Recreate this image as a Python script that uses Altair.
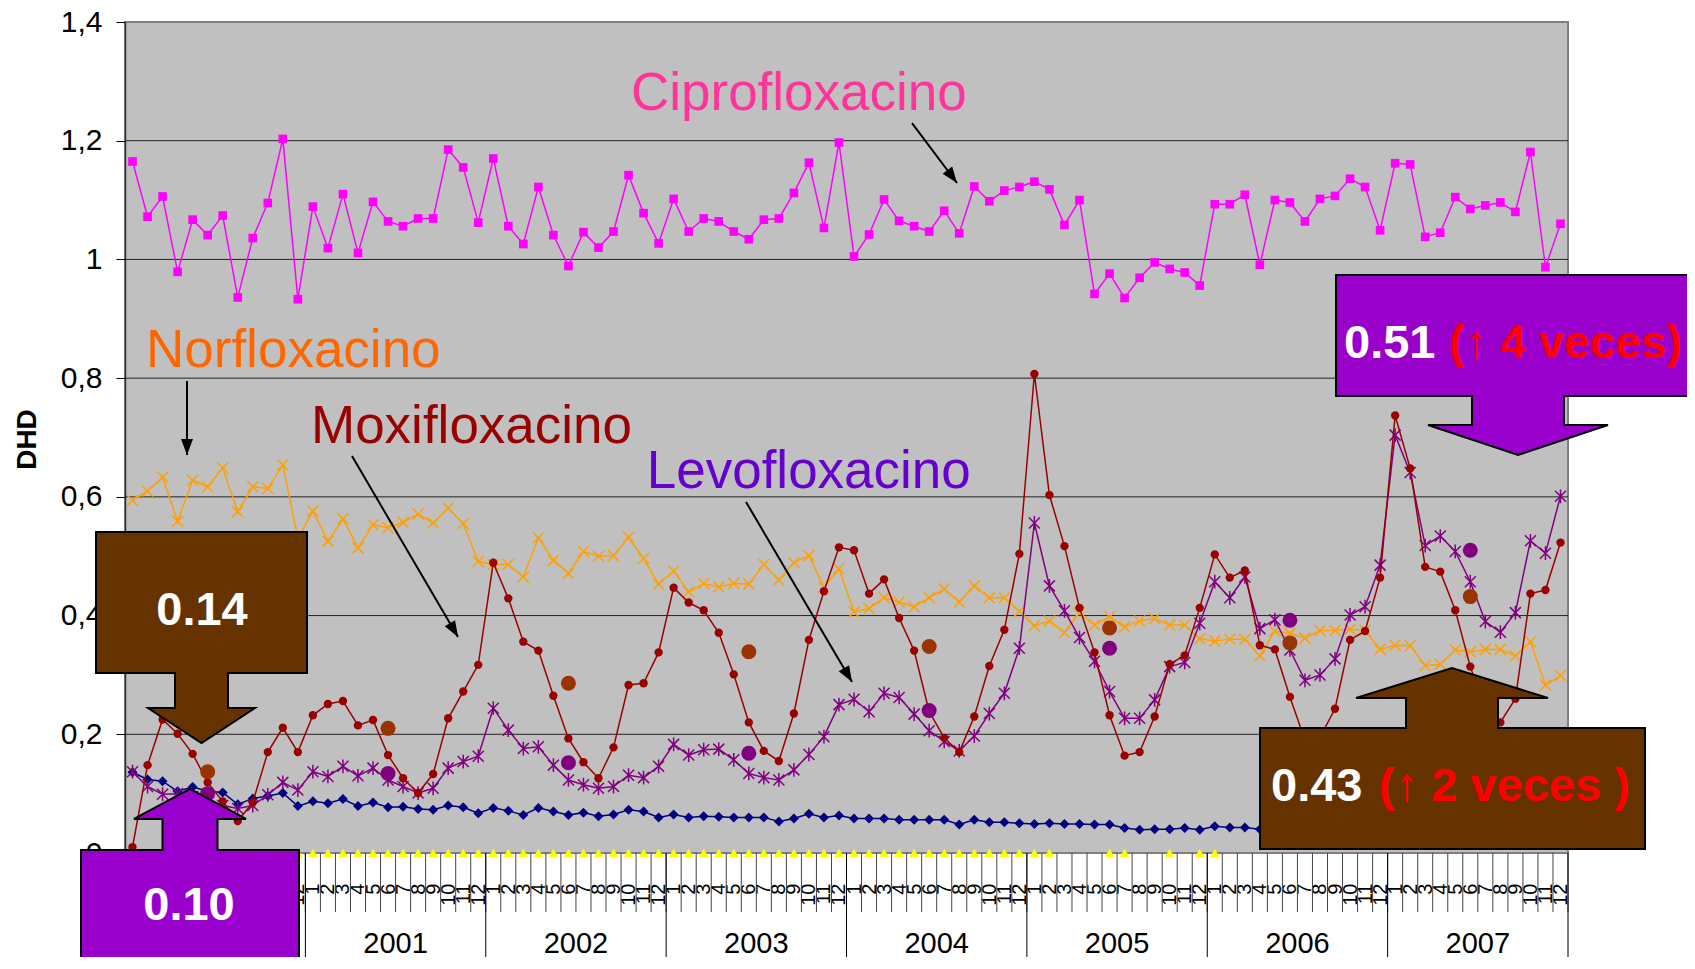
import math
import altair as alt
import pandas as pd

# ---------------- data ----------------
years = [2000, 2001, 2002, 2003, 2004, 2005, 2006, 2007]

ciprofloxacino = [
    1.165, 1.072, 1.106, 0.979, 1.067, 1.041, 1.074, 0.936, 1.036, 1.095, 1.203, 0.933,
    1.089, 1.019, 1.110, 1.011, 1.097, 1.064, 1.056, 1.069, 1.069, 1.185, 1.155, 1.062,
    1.170, 1.056, 1.026, 1.122, 1.041, 0.989, 1.046, 1.020, 1.047, 1.142, 1.078, 1.027,
    1.102, 1.047, 1.069, 1.064, 1.047, 1.034, 1.067, 1.069, 1.112, 1.163, 1.053, 1.197,
    1.005, 1.042, 1.101, 1.065, 1.056, 1.047, 1.082, 1.044, 1.123, 1.098, 1.116, 1.122,
    1.131, 1.118, 1.058, 1.100, 0.942, 0.976, 0.935, 0.969, 0.995, 0.984, 0.978, 0.956,
    1.093, 1.093, 1.109, 0.991, 1.100, 1.096, 1.064, 1.102, 1.107, 1.136, 1.122, 1.049,
    1.162, 1.160, 1.038, 1.045, 1.105, 1.085, 1.091, 1.096, 1.080, 1.181, 0.987, 1.060,
]
norfloxacino = [
    0.594, 0.610, 0.633, 0.559, 0.628, 0.617, 0.649, 0.575, 0.617, 0.614, 0.654, 0.530,
    0.576, 0.525, 0.563, 0.514, 0.553, 0.548, 0.557, 0.571, 0.556, 0.581, 0.555, 0.491,
    0.486, 0.486, 0.465, 0.531, 0.493, 0.471, 0.508, 0.500, 0.501, 0.532, 0.496, 0.453,
    0.475, 0.440, 0.454, 0.448, 0.454, 0.453, 0.486, 0.460, 0.489, 0.501, 0.448, 0.479,
    0.406, 0.412, 0.430, 0.423, 0.415, 0.430, 0.445, 0.423, 0.450, 0.430, 0.430, 0.407,
    0.383, 0.391, 0.371, 0.405, 0.384, 0.398, 0.381, 0.391, 0.395, 0.384, 0.384, 0.361,
    0.357, 0.360, 0.360, 0.332, 0.374, 0.370, 0.362, 0.375, 0.375, 0.377, 0.375, 0.343,
    0.350, 0.349, 0.316, 0.318, 0.342, 0.339, 0.343, 0.343, 0.332, 0.356, 0.283, 0.299,
]
moxifloxacino = [
    0.010, 0.148, 0.225, 0.201, 0.167, 0.119, 0.087, 0.054, 0.085, 0.170, 0.211, 0.170,
    0.232, 0.251, 0.256, 0.215, 0.224, 0.165, 0.126, 0.101, 0.133, 0.227, 0.272, 0.317,
    0.489, 0.429, 0.356, 0.341, 0.265, 0.193, 0.153, 0.126, 0.178, 0.283, 0.286, 0.338,
    0.447, 0.422, 0.409, 0.371, 0.301, 0.220, 0.172, 0.155, 0.235, 0.359, 0.441, 0.515,
    0.510, 0.437, 0.461, 0.396, 0.341, 0.238, 0.194, 0.170, 0.230, 0.315, 0.376, 0.504,
    0.807, 0.603, 0.517, 0.413, 0.338, 0.232, 0.164, 0.170, 0.230, 0.318, 0.333, 0.413,
    0.503, 0.464, 0.476, 0.350, 0.343, 0.263, 0.190, 0.195, 0.243, 0.359, 0.374, 0.464,
    0.737, 0.648, 0.482, 0.474, 0.409, 0.314, 0.240, 0.220, 0.260, 0.437, 0.443, 0.523,
]
levofloxacino = [
    0.137, 0.112, 0.099, 0.100, 0.095, 0.085, 0.080, 0.075, 0.080, 0.098, 0.119, 0.106,
    0.137, 0.129, 0.146, 0.130, 0.143, 0.123, 0.112, 0.101, 0.109, 0.143, 0.154, 0.163,
    0.244, 0.207, 0.176, 0.179, 0.148, 0.123, 0.115, 0.109, 0.112, 0.131, 0.127, 0.146,
    0.183, 0.165, 0.174, 0.175, 0.157, 0.134, 0.127, 0.123, 0.140, 0.166, 0.196, 0.250,
    0.259, 0.238, 0.269, 0.262, 0.234, 0.206, 0.188, 0.172, 0.197, 0.235, 0.269, 0.345,
    0.556, 0.450, 0.408, 0.363, 0.323, 0.272, 0.227, 0.227, 0.258, 0.314, 0.321, 0.387,
    0.457, 0.430, 0.465, 0.378, 0.393, 0.342, 0.291, 0.300, 0.327, 0.401, 0.415, 0.485,
    0.704, 0.641, 0.518, 0.534, 0.508, 0.457, 0.390, 0.372, 0.405, 0.526, 0.505, 0.601,
]
otra_quinolona = [
    0.136, 0.124, 0.121, 0.104, 0.111, 0.104, 0.102, 0.082, 0.092, 0.096, 0.101, 0.079,
    0.087, 0.084, 0.091, 0.079, 0.085, 0.077, 0.078, 0.074, 0.073, 0.080, 0.077, 0.067,
    0.076, 0.071, 0.064, 0.076, 0.070, 0.064, 0.068, 0.062, 0.065, 0.073, 0.070, 0.060,
    0.065, 0.060, 0.062, 0.061, 0.060, 0.060, 0.060, 0.053, 0.058, 0.066, 0.060, 0.063,
    0.058, 0.058, 0.058, 0.056, 0.056, 0.056, 0.056, 0.048, 0.056, 0.052, 0.052, 0.050,
    0.049, 0.050, 0.049, 0.049, 0.048, 0.048, 0.042, 0.039, 0.040, 0.040, 0.042, 0.039,
    0.045, 0.043, 0.043, 0.040, 0.041, 0.040, 0.039, 0.038, 0.040, 0.041, 0.040, 0.039,
    0.042, 0.041, 0.040, 0.039, 0.038, 0.040, 0.039, 0.038, 0.040, 0.039, 0.038, 0.039,
]
# months (0-based index from Jan 2000) where the yellow series (value 0) has a marker
amarillo_meses = list(range(0, 62)) + [65, 66, 69, 71, 72]
amarillo_valor = 0.0

moxi_media_anual = [0.137, 0.210, 0.286, 0.339, 0.348, 0.379, 0.354, 0.432]
levo_media_anual = [0.100, 0.134, 0.152, 0.168, 0.240, 0.345, 0.392, 0.510]

y_ticks = [0, 0.2, 0.4, 0.6, 0.8, 1.0, 1.2, 1.4]
gridlines = [0.2, 0.4, 0.6, 0.8, 1.0, 1.2]

# ---------------- layout ----------------
W, H = 1443, 831
N = len(years) * 12
t = [i + 0.5 for i in range(N)]
FONT = "Liberation Sans"

xs = alt.Scale(domain=[0, N], nice=False, zero=False)
ys = alt.Scale(domain=[0, 1.4], nice=False, zero=True)

xa = alt.Axis(values=t, labelExpr="toString(round(datum.value - 0.5) % 12 + 1)",
              labelAngle=270, labelAlign="right", labelBaseline="middle",
              labelFontSize=20, labelColor="#000000", labelPadding=30,
              labelOverlap=False, labelBound=False, labelFlush=False,
              ticks=False, tickSize=0, domain=False, grid=False, title=None)
ya = alt.Axis(values=y_ticks,
              labelExpr="datum.value == 0 ? '0' : (datum.value == 1 ? '1' : replace(format(datum.value, '.1f'), '.', ','))",
              labelFontSize=30, labelColor="#000000", labelPadding=14,
              tickSize=9, tickColor="#000000", tickWidth=1,
              domainColor="#333333", domainWidth=1.5, grid=False,
              title="DHD", titleFontSize=28, titleFontWeight="bold", titleColor="#000000",
              titleAngle=270, titleX=-98, titleY=417, titleAlign="center", titleBaseline="middle")


def X(f="x"):
    return alt.X(f"{f}:Q", scale=xs, axis=xa)


def Y(f="y"):
    return alt.Y(f"{f}:Q", scale=ys, axis=ya)


layers = []

# gridlines
layers.append(alt.Chart(pd.DataFrame({"y": gridlines})).mark_rule(color="#222222", strokeWidth=1).encode(y=Y()))

# yellow zero series
df_am = pd.DataFrame({"x": [t[i] for i in amarillo_meses], "y": [amarillo_valor] * len(amarillo_meses)})
layers.append(alt.Chart(df_am).mark_point(shape="triangle-up", filled=True, color="#FFFF00", size=100, opacity=1).encode(x=X(), y=Y()))

XSHAPE = "M-1,-1L1,1M-1,1L1,-1"
ASTER = "M-1,-1L1,1M-1,1L1,-1M0,-1.25L0,1.25"


def series(vals, color, shape, size, filled):
    assert len(vals) == N
    df = pd.DataFrame({"x": t, "y": vals})
    ln = alt.Chart(df).mark_line(color=color, strokeWidth=1.5).encode(x=X(), y=Y())
    pt = alt.Chart(df).mark_point(shape=shape, size=size, filled=filled, color=color, opacity=1,
                                  strokeWidth=1.5).encode(x=X(), y=Y())
    return [ln, pt]


layers += series(otra_quinolona, "#000080", "diamond", 100, True)
layers += series(norfloxacino, "#FFA000", XSHAPE, 121, False)
layers += series(levofloxacino, "#800080", ASTER, 121, False)
layers += series(moxifloxacino, "#990000", "circle", 70, True)
layers += series(ciprofloxacino, "#FF00FF", "square", 75, True)

# annual means (big dots) at June of each year
mid = [12 * k + 5.5 for k in range(len(years))]
layers.append(alt.Chart(pd.DataFrame({"x": mid, "y": moxi_media_anual})).mark_point(
    shape="circle", filled=True, color="#993300", size=225, opacity=1).encode(x=X(), y=Y()))
layers.append(alt.Chart(pd.DataFrame({"x": mid, "y": levo_media_anual})).mark_point(
    shape="circle", filled=True, color="#800080", size=225, opacity=1).encode(x=X(), y=Y()))

# category axis decorations: month boundary ticks and year separators
layers.append(alt.Chart(pd.DataFrame({"x": list(range(N + 1)), "y": [0.0] * (N + 1), "y2": [-0.0994] * (N + 1)}))
              .mark_rule(color="#444444", strokeWidth=1).encode(x=X(), y=Y(), y2="y2:Q"))
yb = list(range(0, N + 1, 12))
layers.append(alt.Chart(pd.DataFrame({"x": yb, "y": [0.0] * len(yb), "y2": [-0.25] * len(yb)}))
              .mark_rule(color="#000000", strokeWidth=1).encode(x=X(), y=Y(), y2="y2:Q"))
layers.append(alt.Chart(pd.DataFrame({"x": [12 * k + 6 for k in range(len(years))], "y": [-0.153] * len(years),
                                      "txt": [str(y) for y in years]}))
              .mark_text(fontSize=29, color="#000000", align="center", baseline="middle", font=FONT)
              .encode(x=X(), y=Y(), text="txt:N"))

# drug-name labels with arrows
labels = [
    ("Ciprofloxacino", "#FF3399", 33.66, 1.2518, (52.358, 1.2298, 55.352, 1.1288)),
    ("Norfloxacino", "#FF6600", 1.397, 0.8188, (4.125, 0.7952, 4.125, 0.6705)),
    ("Moxifloxacino", "#990000", 12.374, 0.6907, (15.102, 0.6688, 22.154, 0.3639)),
    ("Levofloxacino", "#6600CC", 34.708, 0.6144, (41.315, 0.5913, 48.367, 0.2881)),
]
arr = pd.DataFrame([a[4] for a in labels], columns=["x", "y", "x2", "y2"])
arr["ang"] = [math.degrees(math.atan2((r.x2 - r.x) * W / N, (r.y2 - r.y) * H / 1.4)) % 360 for r in arr.itertuples()]
layers.append(alt.Chart(arr).mark_rule(color="#000000", strokeWidth=2).encode(x=X(), y=Y(), x2="x2:Q", y2="y2:Q"))
layers.append(alt.Chart(arr).mark_point(shape="M0,0L-6,16L6,16Z", size=4, filled=True, color="#000000", opacity=1)
              .encode(x=X("x2"), y=Y("y2"), angle=alt.Angle("ang:Q", scale=None)))
for txt, col, lx, ly, _ in labels:
    layers.append(alt.Chart(pd.DataFrame({"x": [lx], "y": [ly], "txt": [txt]}))
                  .mark_text(fontSize=53, color=col, align="left", baseline="alphabetic", font=FONT)
                  .encode(x=X(), y=Y(), text="txt:N"))

# callout boxes
callouts = [
    (5.090, 0.4220, "#663300",
     "M-105.5,-70.5L105.5,-70.5L105.5,70.5L26.5,70.5L26.5,105.5L53.5,105.5L0,140.5L-53.5,105.5L-26.5,105.5L-26.5,70.5L-105.5,70.5Z"),
    (4.324, -0.0943, "#9900CC",
     "M-109,90L-109,-59L-27.5,-59L-27.5,-90L-56,-90L0,-120L56,-90L27.5,-90L27.5,-59L109,-59L109,90Z"),
    (92.675, 0.8718, "#9900CC",
     "M-182,-60.5L200,-60.5L200,60.5L46,60.5L46,89.5L90,89.5L0,119.5L-90,89.5L-46,89.5L-46,60.5L-182,60.5Z"),
    (88.284, 0.1087, "#663300",
     "M-192,60.5L-192,-60.5L-46,-60.5L-46,-90.5L-96,-90.5L0,-120.5L96,-90.5L46,-90.5L46,-60.5L193,-60.5L193,60.5Z"),
]
for cx, cy, col, path in callouts:
    layers.append(alt.Chart(pd.DataFrame({"x": [cx], "y": [cy]}))
                  .mark_point(shape=path, size=4, filled=True, fill=col, stroke="#000000", strokeWidth=2, opacity=1)
                  .encode(x=X(), y=Y()))

callout_texts = [
    ("0.14", "#FFFFFF", "center", 5.123, 0.4077, 47),
    ("0.10", "#FFFFFF", "center", 4.258, -0.0893, 47),
    ("0.51", "#FFFFFF", "left", 81.099, 0.8575, 47),
    ("(\u2191 4 veces)", "#FF0000", "left", 88.10, 0.8575, 46),
    ("0.43", "#FFFFFF", "left", 76.243, 0.1112, 47),
    ("(\u2191 2 veces )", "#FF0000", "left", 83.428, 0.1112, 47),
]
for txt, col, al, tx, ty, fs in callout_texts:
    layers.append(alt.Chart(pd.DataFrame({"x": [tx], "y": [ty], "txt": [txt]}))
                  .mark_text(fontSize=fs, fontWeight="bold", color=col, align=al, baseline="middle", font=FONT)
                  .encode(x=X(), y=Y(), text="txt:N"))

chart = alt.layer(*layers).properties(
    width=W, height=H,
    autosize=alt.AutoSizeParams(type="none"),
    padding={"left": 117, "top": 14, "right": 119, "bottom": 104},
).configure(font=FONT).configure_view(fill="#C0C0C0", stroke="#808080", strokeWidth=2)

chart.save("out.html", embed_options={"renderer": "svg", "actions": False})
